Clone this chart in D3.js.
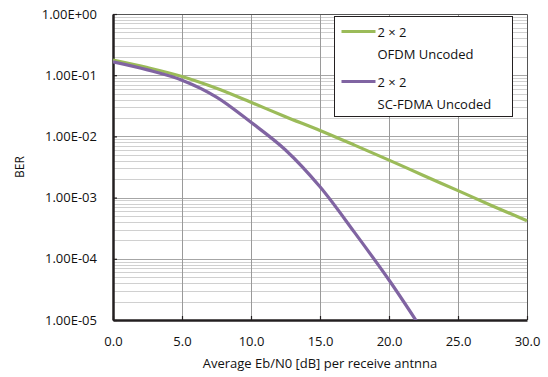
<!DOCTYPE html>
<html>
<head>
<meta charset="utf-8">
<script src="https://cdn.jsdelivr.net/npm/d3@7"></script>
<style>
  body { margin: 0; background: #fff; }
  svg { display: block; font-family: "Open Sans", sans-serif; }
</style>
</head>
<body>
<div class="ber-chart"></div>
<script>
// Eb/N0 sample points (dB)
const snrOfdm = [0, 2.5, 5, 7.5, 10, 12.5, 15, 17.5, 20, 22.5, 25, 27.5, 30];
const berOfdm = [0.177, 0.133, 0.095, 0.061, 0.036, 0.021, 0.0125, 0.0072, 0.0041, 0.0023, 0.0013, 0.00073, 0.00042];
const snrScfdma = [0, 2.5, 5, 7.5, 10, 12.5, 15, 17.5, 20, 22];
const berScfdma = [0.165, 0.122, 0.083, 0.044, 0.017, 0.006, 0.0015, 0.00027, 0.000045, 0.0000095];
const xTicks = [0, 5, 10, 15, 20, 25, 30];
const yTicks = [1e-5, 1e-4, 1e-3, 1e-2, 1e-1, 1];
const seriesNames = ['OFDM Uncoded', 'SC-FDMA Uncoded'];

const width = 548, height = 377;
const margin = { top: 14, right: 21, bottom: 57, left: 113 };
const w = width - margin.left - margin.right,
  h = height - margin.top - margin.bottom;

const svg = d3.select('.ber-chart').append('svg')
  .attr('width', width).attr('height', height);

const x = d3.scaleLinear().domain([0, 30]).range([0, w]);
const y = d3.scaleLog().domain([1e-5, 1]).range([h, 0]);

const g = svg.append('g')
  .attr('transform', 'translate(' + margin.left + ',' + margin.top + ')');

// minor horizontal grid (2..9 of each decade)
const minor = [];
yTicks.slice(0, -1).forEach(function (d) {
  for (let k = 2; k <= 9; k++) minor.push(d * k);
});
g.selectAll('.minor')
  .data(minor)
  .enter().append('line')
  .attr('class', 'minor')
  .attr('x1', 0).attr('x2', w)
  .attr('y1', function (d) { return Math.round(y(d)) + 0.5; })
  .attr('y2', function (d) { return Math.round(y(d)) + 0.5; })
  .attr('stroke', '#d0d0d0').attr('stroke-width', 1);

// major horizontal grid
g.selectAll('.hmajor')
  .data(yTicks.slice(1, -1))
  .enter().append('line')
  .attr('x1', 0).attr('x2', w)
  .attr('y1', function (d) { return Math.round(y(d)) + 0.5; })
  .attr('y2', function (d) { return Math.round(y(d)) + 0.5; })
  .attr('stroke', '#a6a6a6').attr('stroke-width', 1);

// vertical grid
g.selectAll('.vmajor')
  .data(xTicks.slice(1, -1))
  .enter().append('line')
  .attr('x1', function (d) { return Math.round(x(d)) + 0.5; })
  .attr('x2', function (d) { return Math.round(x(d)) + 0.5; })
  .attr('y1', 0).attr('y2', h)
  .attr('stroke', '#9a9a9a').attr('stroke-width', 1);

// top / right frame
g.append('path')
  .attr('d', 'M0,0.5H' + (w + 0.5) + 'V' + h)
  .attr('fill', 'none').attr('stroke', '#555').attr('stroke-width', 1);

// axes
const xAxis = d3.axisBottom(x).tickValues(xTicks)
  .tickFormat(d3.format('.1f')).tickSizeInner(-4).tickSizeOuter(0).tickPadding(17);
const yAxis = d3.axisLeft(y).tickValues(yTicks)
  .tickFormat(function (d) {
    const e = Math.round(Math.log10(d));
    return '1.00E' + (e < 0 ? '-' : '+') + String(Math.abs(e)).padStart(2, '0');
  })
  .tickSizeInner(-4).tickSizeOuter(0).tickPadding(16);

const gx = g.append('g')
  .attr('transform', 'translate(0,' + h + ')')
  .call(xAxis);
const gy = g.append('g').call(yAxis);

[gx, gy].forEach(function (a) {
  a.select('.domain').attr('stroke', '#231f20').attr('stroke-width', 2.5);
  a.selectAll('.tick line').attr('stroke', '#231f20').attr('stroke-width', 1.2);
  a.selectAll('.tick text')
    .attr('font-family', '"Open Sans", sans-serif')
    .attr('font-size', 13).attr('fill', '#111');
});

// data lines
svg.append('clipPath').attr('id', 'plot-clip')
  .append('rect').attr('x', 0).attr('y', 0).attr('width', w + 2).attr('height', h);

const line = d3.line()
  .x(function (d) { return x(d[0]); })
  .y(function (d) { return y(d[1]); })
  .curve(d3.curveCatmullRom.alpha(0.5));

const series = [
  { name: seriesNames[0], color: '#9bbb59', pts: d3.zip(snrOfdm, berOfdm) },
  { name: seriesNames[1], color: '#8064a2', pts: d3.zip(snrScfdma, berScfdma) }
];

g.append('g').attr('clip-path', 'url(#plot-clip)')
  .selectAll('.series')
  .data(series)
  .enter().append('path')
  .attr('class', 'series')
  .attr('fill', 'none')
  .attr('stroke', function (d) { return d.color; })
  .attr('stroke-width', 3.2)
  .attr('d', function (d) { return line(d.pts); });

// legend
const lg = svg.append('g').attr('transform', 'translate(334.5,16.5)');
lg.append('rect')
  .attr('width', 178).attr('height', 100)
  .attr('fill', '#fff').attr('stroke', '#231f20').attr('stroke-width', 1);

series.forEach(function (s, i) {
  const top = 15 + i * 50;
  lg.append('line')
    .attr('x1', 7).attr('x2', 41).attr('y1', top).attr('y2', top)
    .attr('stroke', s.color).attr('stroke-width', 3.2);
  lg.append('text')
    .attr('x', 43).attr('y', top + 5)
    .attr('font-size', 13).attr('fill', '#111')
    .text('2 \u00d7 2');
  lg.append('text')
    .attr('x', 43).attr('y', top + 27)
    .attr('font-size', 13).attr('fill', '#111')
    .text(s.name);
});

// axis titles
svg.append('text')
  .attr('x', margin.left + w / 2).attr('y', 368)
  .attr('text-anchor', 'middle')
  .attr('font-size', 13).attr('fill', '#111')
  .text('Average Eb/N0 [dB] per receive antnna');

svg.append('text')
  .attr('transform', 'translate(24,' + (margin.top + h / 2) + ') rotate(-90)')
  .attr('text-anchor', 'middle')
  .attr('font-size', 12).attr('fill', '#111')
  .text('BER');
</script>
</body>
</html>
